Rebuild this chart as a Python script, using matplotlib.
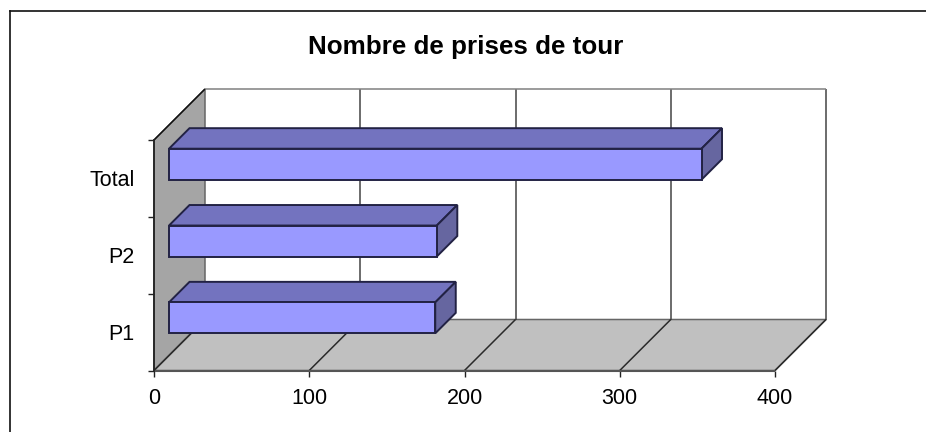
import matplotlib
matplotlib.use("Agg")
from matplotlib import pyplot as plt
from matplotlib.lines import Line2D
from matplotlib.patches import Polygon

# Data
categories = ["P1", "P2", "Total"]
values = [171.5, 172.5, 343]
value_ticks = [0, 100, 200, 300, 400]

plt.rcParams['font.family'] = ['Liberation Sans', 'DejaVu Sans']

W, H = 926, 432
fig = plt.figure(figsize=(W / 100, H / 100), dpi=100, facecolor="white")

# Front plane of the fake 3D box, in pixels
left, right, top, bottom = 154, 775, 140, 370.5
ax = fig.add_axes([left / W, 1 - bottom / H, (right - left) / W, (bottom - top) / H])
ax.set_xlim(0, 400)
ax.set_ylim(0, 3)
ax.patch.set_visible(False)

# Depth of the box, in pixels
depth_x, depth_y = 51, 51
unit_x = (right - left) / 400
unit_y = (bottom - top) / 3


def proj(v, c, d=0.0):
    # value, category position, depth 0..1 -> data coords on the front plane
    return (v + d * depth_x / unit_x, c + d * depth_y / unit_y)


def face(pts, color, edge, lw=1.5, z=2):
    ax.add_patch(Polygon([proj(*p) for p in pts], closed=True, facecolor=color,
                         edgecolor=edge, linewidth=lw, clip_on=False, zorder=z, joinstyle="miter"))


def line(a, b, color, lw=1.5, z=2):
    xa, ya = proj(*a)
    xb, yb = proj(*b)
    ax.plot([xa, xb], [ya, yb], color=color, lw=lw, clip_on=False, zorder=z, solid_capstyle="butt")


# Walls and floor
face([(0, 0, 0), (0, 3, 0), (0, 3, 1), (0, 0, 1)], "#a5a5a5", "#666666", 1.1, 1)
face([(0, 0, 0), (400, 0, 0), (400, 0, 1), (0, 0, 1)], "#c0c0c0", "#666666", 1.1, 1)

# Gridlines on the back wall, running on across the floor
for t in value_ticks:
    if t > 0:
        line((t, 0, 1), (t, 3, 1), "#444444", 1.1, 1.5)
    line((t, 0, 0), (t, 0, 1), "#2a2a2a", 1.1, 1.5)
line((0, 3, 1), (400, 3, 1), "#808080", 1.1, 1.5)
line((0, 3, 0), (0, 3, 1), "#111111", 1.1, 1.5)
line((0, 0, 0), (400, 0, 0), "#555555", 1.5, 1.6)

# Bars
bar_h = 31 / unit_y
d0, d1 = 15 / 51, 35.5 / 51
for i, v in enumerate(values):
    c0 = i + 0.49 - bar_h / 2
    c1 = c0 + bar_h
    face([(0, c1, d0), (v, c1, d0), (v, c1, d1), (0, c1, d1)], "#7373bf", "#222244", 1.4, 3)
    face([(v, c0, d0), (v, c1, d0), (v, c1, d1), (v, c0, d1)], "#6666a0", "#222244", 1.4, 3)
    face([(0, c0, d0), (v, c0, d0), (v, c1, d0), (0, c1, d0)], "#9999ff", "#222244", 1.4, 4)

# Axes, ticks and labels
for s in ["top", "right", "bottom"]:
    ax.spines[s].set_visible(False)
ax.spines["left"].set_color("#222222")
ax.spines["left"].set_linewidth(1.3)
ax.spines["left"].set_zorder(2)
ax.set_xticks(value_ticks)
ax.set_yticks([0, 1, 2, 3])
ax.set_yticks([0.5, 1.5, 2.5], labels=categories, minor=True)
ax.set_yticklabels([])
ax.tick_params(axis="y", which="major", length=4.5, width=1, color="#222222")
ax.tick_params(axis="y", which="minor", length=0, pad=14, labelsize=15.5, labelcolor="black")
ax.tick_params(axis="x", length=4.5, width=1, color="#222222", pad=8, labelsize=15.5, labelcolor="black")

fig.text(466 / W, 1 - 47 / H, "Nombre de prises de tour", ha="center", va="center",
         fontsize=18.7, fontweight="bold", color="black")

# Chart frame, only its left and top edges fall inside the picture
fx0, fy0 = 10 / W, 1 - 11 / H
fig.add_artist(Line2D([fx0, fx0], [0, fy0], color="#111111", lw=1.2))
fig.add_artist(Line2D([fx0, 1], [fy0, fy0], color="#111111", lw=1.2))

fig.savefig("out.png", dpi=100)
